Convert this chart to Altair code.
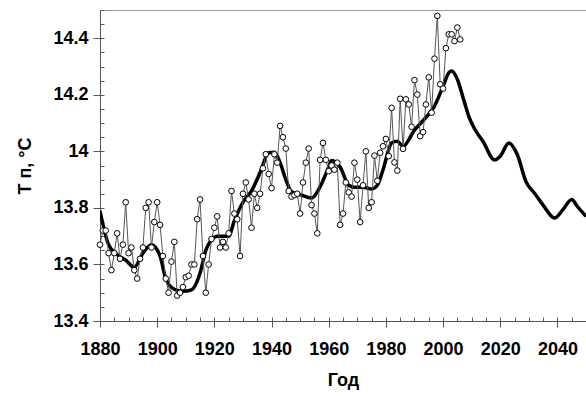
import altair as alt
import pandas as pd

# Annual values, 1880..2006
temps = [
    13.67, 13.72, 13.72, 13.64, 13.58, 13.64, 13.71, 13.62, 13.67, 13.82,   # 1880s
    13.64, 13.66, 13.58, 13.55, 13.62, 13.66, 13.80, 13.82, 13.66, 13.75,   # 1890s
    13.82, 13.74, 13.63, 13.55, 13.50, 13.61, 13.68, 13.49, 13.50, 13.52,   # 1900s
    13.555, 13.56, 13.60, 13.60, 13.76, 13.83, 13.63, 13.50, 13.60, 13.69,  # 1910s
    13.73, 13.77, 13.66, 13.68, 13.66, 13.71, 13.86, 13.78, 13.76, 13.63,   # 1920s
    13.85, 13.89, 13.83, 13.73, 13.85, 13.80, 13.85, 13.94, 13.99, 13.92,   # 1930s
    13.87, 13.99, 13.96, 14.09, 14.05, 14.01, 13.86, 13.84, 13.845, 13.85,  # 1940s
    13.78, 13.89, 13.96, 14.01, 13.81, 13.78, 13.71, 13.97, 14.03, 13.97,   # 1950s
    13.93, 13.95, 13.935, 13.96, 13.74, 13.78, 13.89, 13.855, 13.84, 13.96, # 1960s
    13.90, 13.75, 13.88, 14.00, 13.80, 13.82, 13.985, 13.896, 13.995, 14.018,  # 1970s
    14.044, 13.983, 14.154, 13.961, 13.932, 14.186, 14.009, 14.184, 14.166, 14.087,  # 1980s
    14.252, 14.201, 14.054, 14.068, 14.166, 14.262, 14.137, 14.328, 14.479, 14.237,  # 1990s
    14.222, 14.365, 14.414, 14.414, 14.39, 14.438, 14.396,                 # 2000s
]
first_year = 1880

# Smoothed / projected curve
smooth_years = [1880, 1883, 1886, 1889, 1892, 1895, 1898, 1901, 1903, 1906, 1909, 1912,
                1915, 1917, 1919, 1921, 1925, 1927, 1930, 1933, 1936, 1939, 1941, 1943,
                1945, 1947, 1950, 1954, 1957, 1960, 1961, 1964, 1967, 1969, 1972, 1975,
                1977, 1979, 1982, 1984, 1986, 1990, 1994, 1997, 2000, 2002, 2003, 2005,
                2007, 2009, 2011, 2014, 2018, 2020, 2023, 2026, 2029, 2032, 2035, 2039,
                2042, 2045, 2047, 2050]
smooth_vals = [13.79, 13.67, 13.635, 13.615, 13.59, 13.64, 13.67, 13.63, 13.55, 13.512, 13.505, 13.51,
               13.57, 13.65, 13.687, 13.70, 13.70, 13.755, 13.82, 13.86, 13.925, 13.995, 13.997, 13.96,
               13.90, 13.857, 13.847, 13.835, 13.875, 13.945, 13.968, 13.945, 13.88, 13.873, 13.873, 13.867,
               13.88, 13.935, 14.03, 14.036, 14.018, 14.075, 14.12, 14.16, 14.23, 14.278, 14.284, 14.255,
               14.19, 14.124, 14.08, 14.035, 13.97, 13.983, 14.03, 13.988, 13.893, 13.852, 13.81, 13.764,
               13.795, 13.83, 13.805, 13.77]

x_major = [1880, 1900, 1920, 1940, 1960, 1980, 2000, 2020, 2040]
x_minor = [1880, 1885, 1890, 1895, 1900, 1905, 1910, 1915, 1920, 1925, 1930, 1935, 1940,
           1945, 1950, 1955, 1960, 1965, 1970, 1975, 1980, 1985, 1990, 1995, 2000, 2005,
           2010, 2015, 2020, 2025, 2030, 2035, 2040, 2045, 2050]
y_major = [13.4, 13.6, 13.8, 14.0, 14.2, 14.4]
y_minor = [13.4, 13.45, 13.5, 13.55, 13.6, 13.65, 13.7, 13.75, 13.8, 13.85, 13.9, 13.95,
           14.0, 14.05, 14.1, 14.15, 14.2, 14.25, 14.3, 14.35, 14.4, 14.45, 14.5]

annual = pd.DataFrame({"year": list(range(first_year, first_year + len(temps))), "t": temps})
smooth = pd.DataFrame({"year": smooth_years, "t": smooth_vals})

FONT = "Liberation Sans"
AX = "#555555"
W, H = 486, 311
xs = alt.Scale(domain=[1880, 2050], nice=False)
ys = alt.Scale(domain=[13.4, 14.5], nice=False, zero=False)

x_axis = alt.Axis(values=x_major, format="d", title="Год", grid=False, orient="bottom",
                  labelFont=FONT, labelFontSize=18, labelFontWeight="bold", labelColor="black",
                  titleFont=FONT, titleFontSize=18, titleFontWeight="bold", titleColor="black",
                  tickSize=6, tickColor=AX, domainColor=AX, labelPadding=13, titlePadding=13,
                  labelFlush=False, labelOverlap=False)
y_axis = alt.Axis(values=y_major, format="~g", title="T п, °C", grid=False, orient="left",
                  labelFont=FONT, labelFontSize=18, labelFontWeight="bold", labelColor="black",
                  titleFont=FONT, titleFontSize=18, titleFontWeight="bold", titleColor="black",
                  tickSize=7, tickColor=AX, domainColor=AX, labelPadding=5, titlePadding=18,
                  labelFlush=False, labelOverlap=False)

thick = alt.Chart(smooth).mark_line(color="black", strokeWidth=3.5, interpolate="monotone", clip=True).encode(
    x=alt.X("year:Q", scale=xs, axis=x_axis),
    y=alt.Y("t:Q", scale=ys, axis=y_axis),
)
thin = alt.Chart(annual).mark_line(color="#555555", strokeWidth=1).encode(
    x=alt.X("year:Q", scale=xs, axis=None), y=alt.Y("t:Q", scale=ys, axis=None))
pts = alt.Chart(annual).mark_point(shape="circle", filled=True, fill="white", stroke="black",
                                   strokeWidth=1, size=32, opacity=1).encode(
    x=alt.X("year:Q", scale=xs, axis=None), y=alt.Y("t:Q", scale=ys, axis=None))

# minor ticks pointing into the plot: a top axis moved down to the bottom edge,
# and a right axis moved over to the left edge
minor = alt.Chart(annual).mark_point(opacity=0).encode(
    x=alt.X("year:Q", scale=xs, axis=alt.Axis(values=x_minor, orient="top", labels=False, domain=False,
                                             title=None, grid=False, tickSize=4, offset=-H, tickColor=AX)),
    y=alt.Y("t:Q", scale=ys, axis=alt.Axis(values=y_minor, orient="right", labels=False, domain=False,
                                          title=None, grid=False, tickSize=4, offset=-W, tickColor=AX)),
)

chart = alt.layer(thick, thin, pts, minor).resolve_axis(x="independent", y="independent").properties(
    width=W, height=H,
    autosize=alt.AutoSizeParams(type="none"),
    padding={"left": 100, "top": 10, "right": 0, "bottom": 77},
    background="white",
).configure_view(stroke="#999999", strokeWidth=1)

chart.save("out.html", embed_options={"renderer": "svg", "actions": False})
